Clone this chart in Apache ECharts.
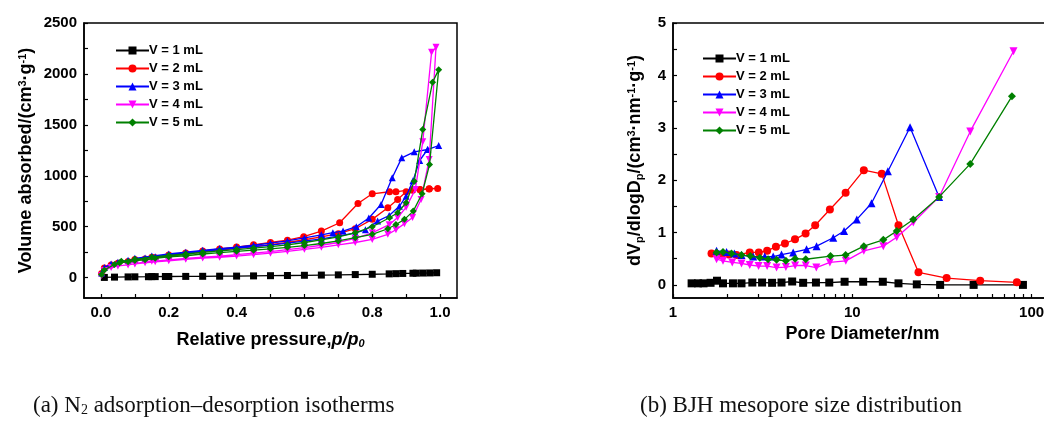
<!DOCTYPE html>
<html><head><meta charset="utf-8">
<script src="https://cdn.jsdelivr.net/npm/echarts@6/dist/echarts.min.js"></script>
<style>html,body{margin:0;padding:0;background:#fff}#c{width:1044px;height:423px}</style>
</head><body><div id="c"></div>
<script>
// ---------- DATA ----------
const seriesNames = ['V = 1 mL', 'V = 2 mL', 'V = 3 mL', 'V = 4 mL', 'V = 5 mL'];

// (a) N2 adsorption–desorption isotherms: [p/p0, volume] (adsorption then desorption)
const iso1 = [[0.01,2],[0.04,5],[0.08,7],[0.1,8],[0.14,9],[0.15,10],[0.16,10],[0.19,11],[0.2,11],[0.25,12],[0.3,13],[0.35,14],[0.4,15],[0.45,17],[0.5,19],[0.55,21],[0.6,23],[0.65,25],[0.7,27],[0.75,30],[0.8,33],[0.85,37],[0.87,39],[0.89,41],[0.92,43],[0.93,44],[0.95,45],[0.97,46],[0.99,48]];
const iso2 = [[0.002,40],[0.01,95],[0.03,125],[0.05,140],[0.08,158],[0.1,170],[0.13,183],[0.16,195],[0.2,212],[0.25,232],[0.3,252],[0.35,270],[0.4,288],[0.45,305],[0.5,325],[0.55,345],[0.6,372],[0.65,400],[0.7,432],[0.75,480],[0.8,572],[0.846,686],[0.875,768],[0.9,843],[0.919,858],[0.941,862],[0.968,870],[0.993,876],
  [0.968,873],[0.941,866],[0.919,866],[0.87,842],[0.851,843],[0.8,823],[0.758,728],[0.704,539],[0.65,457],[0.598,402],[0.55,368],[0.5,345],[0.45,322],[0.4,300],[0.35,282],[0.3,262],[0.25,242],[0.2,222],[0.15,200],[0.1,178]];
const iso3 = [[0.002,45],[0.01,100],[0.03,135],[0.05,152],[0.08,170],[0.1,180],[0.13,192],[0.16,205],[0.2,222],[0.25,240],[0.3,258],[0.35,275],[0.4,290],[0.45,305],[0.5,320],[0.55,338],[0.6,358],[0.65,380],[0.7,408],[0.75,440],[0.78,470],[0.816,555],[0.85,610],[0.88,700],[0.9,800],[0.92,950],[0.94,1150],[0.963,1258],[0.996,1297],
  [0.964,1258],[0.924,1235],[0.887,1176],[0.859,980],[0.826,718],[0.79,585],[0.753,500],[0.714,457],[0.684,441],[0.65,420],[0.6,390],[0.55,360],[0.5,338],[0.45,318],[0.4,300],[0.35,285],[0.3,268],[0.25,250],[0.2,232],[0.15,212],[0.1,190]];
const iso4 = [[0.002,20],[0.01,70],[0.03,100],[0.05,115],[0.08,125],[0.1,135],[0.13,145],[0.16,155],[0.2,165],[0.25,180],[0.3,192],[0.35,200],[0.4,212],[0.45,225],[0.5,240],[0.55,258],[0.6,278],[0.65,298],[0.7,322],[0.75,345],[0.8,375],[0.846,425],[0.87,470],[0.895,530],[0.919,590],[0.944,768],[0.968,1160],[0.988,2261],
  [0.975,2212],[0.949,1333],[0.927,866],[0.9,690],[0.875,590],[0.85,520],[0.8,440],[0.75,385],[0.7,345],[0.65,318],[0.6,295],[0.55,275],[0.5,255],[0.45,240],[0.4,225],[0.35,210],[0.3,200],[0.25,188],[0.2,175],[0.15,160],[0.1,140]];
const iso5 = [[0.002,30],[0.01,75],[0.04,130],[0.055,147],[0.08,155],[0.1,168],[0.13,175],[0.16,190],[0.2,205],[0.25,215],[0.3,232],[0.35,245],[0.4,258],[0.45,270],[0.5,283],[0.55,298],[0.6,315],[0.65,335],[0.7,360],[0.75,392],[0.8,425],[0.846,480],[0.87,522],[0.895,572],[0.921,653],[0.947,823],[0.969,1111],[0.996,2042],
  [0.978,1918],[0.949,1454],[0.924,947],[0.9,735],[0.875,637],[0.851,588],[0.8,500],[0.75,440],[0.7,400],[0.65,370],[0.6,345],[0.55,322],[0.5,305],[0.45,290],[0.4,275],[0.35,262],[0.3,248],[0.25,232],[0.2,218],[0.15,200],[0.1,180],[0.06,160]];

// (b) BJH pore size distribution: [pore diameter nm, dVp/dlogDp]
const bjh1 = [[1.27,0.03],[1.38,0.03],[1.48,0.03],[1.62,0.04],[1.76,0.08],[1.9,0.03],[2.16,0.03],[2.41,0.03],[2.77,0.045],[3.14,0.045],[3.57,0.04],[4.03,0.045],[4.62,0.065],[5.32,0.04],[6.27,0.045],[7.44,0.045],[9.06,0.06],[11.5,0.06],[14.8,0.06],[18.1,0.03],[22.9,0.01],[30.9,0.0],[47.5,0.0],[89.5,0.0]];
const bjh2 = [[1.64,0.6],[1.86,0.57],[2.05,0.58],[2.26,0.57],[2.68,0.62],[3.01,0.62],[3.35,0.65],[3.75,0.73],[4.21,0.79],[4.79,0.87],[5.49,0.98],[6.21,1.14],[7.5,1.44],[9.18,1.76],[11.6,2.19],[14.6,2.12],[18.1,1.14],[23.4,0.24],[33.6,0.13],[51.7,0.08],[82.8,0.05]];
const bjh3 = [[1.75,0.65],[1.99,0.63],[2.2,0.6],[2.41,0.57],[2.8,0.54],[3.25,0.54],[3.62,0.54],[4.03,0.58],[4.68,0.62],[5.56,0.68],[6.32,0.74],[7.83,0.9],[9.0,1.03],[10.6,1.25],[12.8,1.56],[15.8,2.17],[21.0,3.01],[30.5,1.68]];
const bjh4 = [[1.75,0.49],[1.9,0.46],[2.14,0.43],[2.41,0.41],[2.68,0.38],[3.0,0.36],[3.35,0.36],[3.78,0.33],[4.26,0.34],[4.8,0.37],[5.5,0.37],[6.3,0.33],[7.5,0.43],[9.2,0.46],[11.6,0.65],[14.9,0.74],[17.7,0.91],[21.9,1.19],[30.5,1.68],[45.5,2.93],[79.3,4.46]];
const bjh5 = [[1.75,0.62],[1.9,0.63],[2.12,0.6],[2.41,0.57],[2.7,0.55],[3.05,0.52],[3.39,0.49],[3.78,0.48],[4.26,0.46],[4.8,0.5],[5.5,0.49],[7.56,0.55],[9.18,0.57],[11.6,0.74],[14.9,0.86],[17.7,1.03],[21.9,1.25],[30.5,1.68],[45.5,2.31],[77.7,3.6]];

// tick values
const isoXLabels = [0, 0.2, 0.4, 0.6, 0.8, 1.0];
const isoXTicks = [0, 0.1, 0.2, 0.3, 0.4, 0.5, 0.6, 0.7, 0.8, 0.9, 1.0];
const isoYLabels = [0, 500, 1000, 1500, 2000, 2500];
const isoYTicks = [0, 250, 500, 750, 1000, 1250, 1500, 1750, 2000, 2250, 2500];
const bjhXLabels = [1, 10, 100];
const bjhXTicks = [1, 2, 3, 4, 5, 6, 7, 8, 9, 10, 20, 30, 40, 50, 60, 70, 80, 90, 100];
const bjhYLabels = [0, 1, 2, 3, 4, 5];
const bjhYTicks = [0, 0.5, 1, 1.5, 2, 2.5, 3, 3.5, 4, 4.5, 5];

// ---------- STYLE ----------
const FONT = "'Liberation Sans', Arial, sans-serif";
const SERIF = "'Liberation Serif', 'DejaVu Serif', serif";
const colors = ['#000000', '#ff0000', '#0000ff', '#ff00ff', '#008000'];
const symbols = ['rect', 'circle', 'triangle', 'triangle', 'diamond'];
const rotates = [0, 0, 0, 180, 0];
const isoData = [iso1, iso2, iso3, iso4, iso5];
const bjhData = [bjh1, bjh2, bjh3, bjh4, bjh5];

const axisCommon = {
  axisLine: { show: true, onZero: false, lineStyle: { color: '#000', width: 1.5 } },
  axisTick: { inside: true, length: 4, lineStyle: { color: '#000', width: 1.2 } },
  axisLabel: { color: '#000', fontFamily: FONT, fontWeight: 'bold', fontSize: 15, margin: 7 },
  splitLine: { show: false },
  nameLocation: 'middle',
  nameTextStyle: { color: '#000', fontFamily: FONT, fontWeight: 'bold', fontSize: 18,
    rich: {
      n: { fontFamily: FONT, fontWeight: 'bold', fontSize: 18, color: '#000' },
      i: { fontFamily: FONT, fontWeight: 'bold', fontStyle: 'italic', fontSize: 18, color: '#000' },
      sup: { fontFamily: FONT, fontWeight: 'bold', fontSize: 11, color: '#000', verticalAlign: 'top', padding: [0,0,8,0] },
      sub: { fontFamily: FONT, fontWeight: 'bold', fontSize: 11, color: '#000', verticalAlign: 'bottom', padding: [6,0,0,0] },
      subi: { fontFamily: FONT, fontWeight: 'bold', fontStyle: 'italic', fontSize: 11, color: '#000', verticalAlign: 'bottom', padding: [6,0,0,0] }
    }
  }
};
function ax(extra) {
  const o = JSON.parse(JSON.stringify(axisCommon));
  for (const k in extra) {
    if (extra[k] && typeof extra[k] === 'object' && !Array.isArray(extra[k]) && o[k]) Object.assign(o[k], extra[k]);
    else o[k] = extra[k];
  }
  return o;
}

const legendCommon = {
  orient: 'vertical', itemWidth: 33, itemHeight: 10, itemGap: 5,
  textStyle: { fontFamily: FONT, fontWeight: 'bold', fontSize: 13, color: '#000', padding: [0,0,0,-5] },
  data: seriesNames
};

const series = [];
isoData.forEach((d, i) => series.push({
  name: seriesNames[i], type: 'line', xAxisIndex: 0, yAxisIndex: 0, data: d,
  symbol: symbols[i], symbolRotate: rotates[i], symbolSize: 7,
  lineStyle: { color: colors[i], width: 1.3 }, itemStyle: { color: colors[i] },
  animation: false, z: 2 + i
}));
bjhData.forEach((d, i) => series.push({
  name: seriesNames[i], type: 'line', xAxisIndex: 1, yAxisIndex: 1, data: d,
  symbol: symbols[i], symbolRotate: rotates[i], symbolSize: 8,
  lineStyle: { color: colors[i], width: 1.3 }, itemStyle: { color: colors[i] },
  animation: false, z: 2 + i
}));

const capStyle = {
  fontWeight: 'normal',
  rich: {
    a: { fontFamily: SERIF, fontWeight: 'normal', fontSize: 23, color: '#111' },
    s: { fontFamily: SERIF, fontWeight: 'normal', fontSize: 14, color: '#111', verticalAlign: 'bottom', padding: [8,0,0,0] }
  }
};

const option = {
  backgroundColor: '#fff',
  animation: false,
  title: [
    { text: '{a|(a) N}{s|2}{a| adsorption–desorption isotherms}', left: 33, top: 394, padding: 0, textStyle: capStyle },
    { text: '{a|(b) BJH mesopore size distribution}', left: 640, top: 394, padding: 0, textStyle: capStyle }
  ],
  grid: [
    { left: 84, top: 23, width: 373, height: 275, show: true, borderColor: '#000', borderWidth: 1.5, backgroundColor: 'transparent', outerBoundsMode: 'none', containLabel: false },
    { left: 673, top: 23, width: 379, height: 275, show: true, borderColor: '#000', borderWidth: 1.5, backgroundColor: 'transparent', outerBoundsMode: 'none', containLabel: false }
  ],
  legend: [
    Object.assign({ left: 110, top: 39 }, legendCommon),
    Object.assign({ left: 697, top: 47 }, legendCommon)
  ],
  xAxis: [
    ax({ type: 'value', gridIndex: 0, min: -0.05, max: 1.05,
      axisTick: { customValues: isoXTicks },
      axisLabel: { customValues: isoXLabels, formatter: v => v.toFixed(1) },
      name: '{n|Relative pressure,}{i|p/p}{subi|0}', nameGap: 33 }),
    ax({ type: 'log', logBase: 10, gridIndex: 1, min: 1, max: 130,
      axisTick: { customValues: bjhXTicks },
      axisLabel: { customValues: bjhXLabels, formatter: v => String(Math.round(v)) },
      name: '{n|Pore Diameter/nm}', nameGap: 25 })
  ],
  yAxis: [
    ax({ type: 'value', gridIndex: 0, min: -200, max: 2500,
      axisTick: { customValues: isoYTicks },
      axisLabel: { customValues: isoYLabels, formatter: v => String(v) },
      name: '{n|Volume absorbed/(cm}{sup|3}{n|·g}{sup|-1}{n|)}', nameGap: 48 }),
    ax({ type: 'value', gridIndex: 1, min: -0.25, max: 5,
      axisTick: { customValues: bjhYTicks },
      axisLabel: { customValues: bjhYLabels, formatter: v => String(v) },
      name: '{n|dV}{sub|p}{n|/dlogD}{sub|p}{n|/(cm}{sup|3}{n|·nm}{sup|-1}{n|·g}{sup|-1}{n|)}', nameGap: 28 })
  ],
  series: series
};

const chart = echarts.init(document.getElementById('c'), null, { renderer: 'canvas' });
chart.setOption(option);
</script>
</body></html>
